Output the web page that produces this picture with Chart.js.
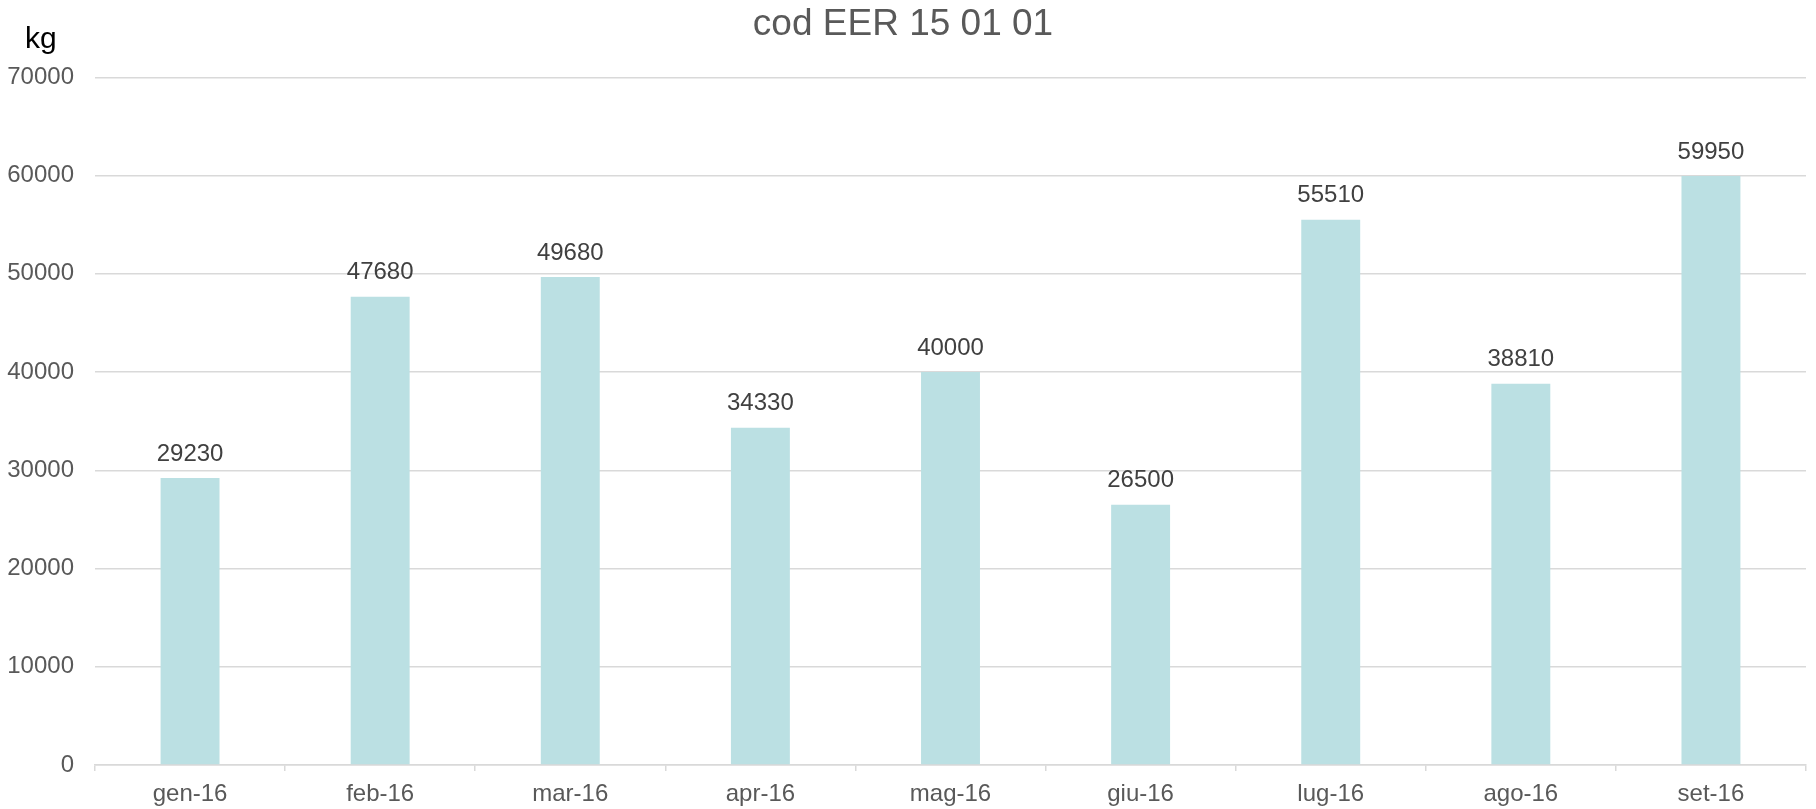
<!DOCTYPE html>
<html>
<head>
<meta charset="utf-8">
<script src="https://cdn.jsdelivr.net/npm/chart.js@4/dist/chart.umd.min.js"></script>
<style>
  html, body { margin: 0; padding: 0; background: #fff; }
  #wrap { width: 1816px; height: 809px; position: relative; }
</style>
</head>
<body>
<div id="wrap"><canvas id="chart"></canvas></div>
<script>
const months = ['gen-16', 'feb-16', 'mar-16', 'apr-16', 'mag-16', 'giu-16', 'lug-16', 'ago-16', 'set-16'];
const kgValues = [29230, 47680, 49680, 34330, 40000, 26500, 55510, 38810, 59950];
const yTicks = [0, 10000, 20000, 30000, 40000, 50000, 60000, 70000];

const FONT = '"Liberation Sans", Arial, sans-serif';

// value labels above bars + unit text in the corner
const barLabels = {
  id: 'barLabels',
  afterDatasetsDraw(chart) {
    const ctx = chart.ctx;
    const meta = chart.getDatasetMeta(0);
    ctx.save();
    ctx.font = '24px ' + FONT;
    ctx.fillStyle = '#404040';
    ctx.textAlign = 'center';
    ctx.textBaseline = 'middle';
    meta.data.forEach((bar, i) => {
      ctx.fillText(String(kgValues[i]), bar.x, bar.y - 24);
    });
    ctx.font = '30px ' + FONT;
    ctx.fillStyle = '#000';
    ctx.textAlign = 'left';
    ctx.textBaseline = 'alphabetic';
    ctx.fillText('kg', 25, 48);
    ctx.restore();
  }
};

new Chart(document.getElementById('chart'), {
  type: 'bar',
  data: {
    labels: months,
    datasets: [{
      data: kgValues,
      backgroundColor: '#BBE0E3',
      borderWidth: 0,
      barPercentage: 0.31,
      categoryPercentage: 1
    }]
  },
  options: {
    responsive: true,
    maintainAspectRatio: false,
    animation: false,
    layout: { padding: { left: 0, right: 10, top: 0, bottom: 0 } },
    plugins: {
      legend: { display: false },
      tooltip: { enabled: false },
      title: {
        display: true,
        text: 'cod EER 15 01 01',
        color: '#595959',
        font: { family: FONT, size: 37, weight: 'normal' },
        padding: { top: 3, bottom: 30 }
      }
    },
    scales: {
      x: {
        afterFit(scale) { scale.height = 44; },
        grid: {
          display: true,
          drawOnChartArea: false,
          drawTicks: true,
          tickLength: 6,
          color: '#D9D9D9',
          lineWidth: 1.5,
          offset: true
        },
        border: { display: true, color: '#D9D9D9', width: 1.5 },
        ticks: {
          color: '#595959',
          font: { family: FONT, size: 24 },
          padding: 9,
          maxRotation: 0
        }
      },
      y: {
        min: 0,
        max: 70000,
        afterBuildTicks(scale) {
          scale.ticks = yTicks.map(v => ({ value: v }));
        },
        afterFit(scale) { scale.width = 95; },
        grid: { color: '#D9D9D9', lineWidth: 1.5, drawTicks: false },
        border: { display: false },
        ticks: {
          color: '#595959',
          font: { family: FONT, size: 24 },
          padding: 21,
          callback: v => String(v)
        }
      }
    }
  },
  plugins: [barLabels]
});
</script>
</body>
</html>
